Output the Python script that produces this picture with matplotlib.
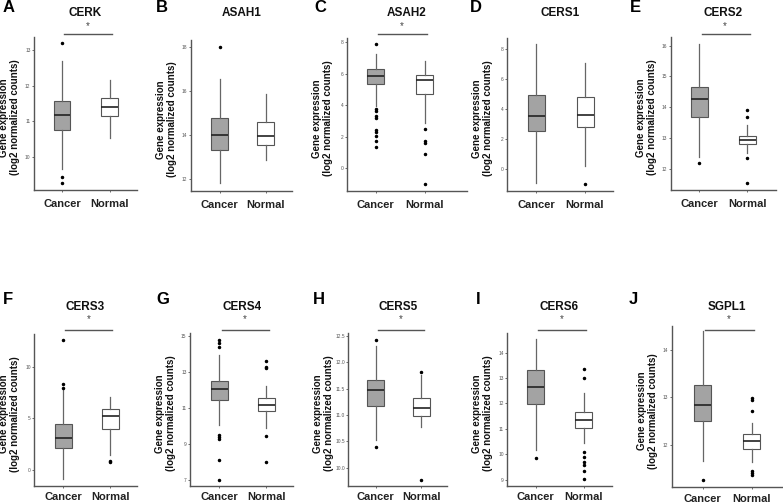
import matplotlib
matplotlib.use("Agg")
import matplotlib.pyplot as plt
import matplotlib.transforms as mtransforms

plt.rcParams['font.family'] = ['Liberation Sans', 'DejaVu Sans']

# ---- data ----
genes = ["CERK", "ASAH1", "ASAH2", "CERS1", "CERS2",
         "CERS3", "CERS4", "CERS5", "CERS6", "SGPL1"]
letters = ["A", "B", "C", "D", "E", "F", "G", "H", "I", "J"]
groups = ["Cancer", "Normal"]
significant = [True, False, True, False, True, True, True, True, True, True]

cancer_whislo = [9.66, 11.83, 3.95, -0.93, 12.39, -0.93, 10.07, 10.52, 10.18, 11.67]
cancer_q1 = [10.76, 13.33, 5.34, 2.57, 13.69, 2.14, 11.42, 11.18, 11.98, 12.51]
cancer_med = [11.18, 14.0, 5.87, 3.55, 14.26, 3.05, 12.04, 11.47, 12.64, 12.85]
cancer_q3 = [11.58, 14.78, 6.33, 4.93, 14.64, 4.44, 12.5, 11.66, 13.32, 13.27]
cancer_whishi = [12.7, 16.53, 7.28, 8.33, 16.05, 7.86, 13.94, 12.31, 14.53, 14.4]
cancer_fliers = [
    [13.19, 9.43, 9.27],
    [18.0],
    [7.9, 3.76, 3.64, 3.32, 3.2, 2.42, 2.31, 2.04, 1.7, 1.32],
    [],
    [12.2],
    [12.6, 8.35, 7.99],
    [14.78, 14.59, 14.41, 9.47, 9.37, 9.26, 8.08, 7.0],
    [12.42, 10.4],
    [9.87],
    [11.27],
]

normal_whislo = [10.53, 12.85, 2.85, 0.22, 12.52, 1.43, 9.86, 10.77, 10.44, 11.65]
normal_q1 = [11.15, 13.56, 4.7, 2.84, 12.79, 3.92, 10.8, 10.99, 11.04, 11.91]
normal_med = [11.41, 13.94, 5.6, 3.64, 12.92, 5.24, 11.17, 11.14, 11.34, 12.09]
normal_q3 = [11.64, 14.59, 5.95, 4.82, 13.05, 5.9, 11.57, 11.32, 11.67, 12.22]
normal_whishi = [12.17, 15.83, 6.84, 7.07, 13.43, 7.09, 12.2, 11.75, 12.4, 12.46]
normal_fliers = [
    [],
    [],
    [2.5, 1.75, 1.62, 0.89, -0.98],
    [-0.96],
    [13.92, 13.69, 12.34, 11.53],
    [0.87, 0.7],
    [13.61, 13.3, 13.2, 9.43, 7.98],
    [11.81, 9.77],
    [13.35, 13.01, 10.08, 9.9, 9.68, 9.58, 9.33, 9.02],
    [12.99, 12.94, 12.71, 11.46, 11.42, 11.37],
]

yticks = [
    [10, 11, 12, 13],
    [12, 14, 16, 18],
    [0, 2, 4, 6, 8],
    [0, 2, 4, 6, 8],
    [12, 13, 14, 15, 16],
    [0, 5, 10],
    [7, 9, 11, 13, 15],
    [10.0, 10.5, 11.0, 11.5, 12.0, 12.5],
    [9, 10, 11, 12, 13, 14],
    [12, 13, 14],
]
ylims = [(9.08, 13.36), (11.47, 18.3), (-1.45, 8.28), (-1.45, 8.73), (11.31, 16.29),
         (-1.56, 13.2), (6.67, 15.15), (9.66, 12.55), (8.76, 14.79), (11.11, 14.5)]

# ---- layout in pixels (left, top, right, bottom, centre1, centre2) ----
W, H = 783, 504
geom = [
    (34, 37, 137, 190, 62, 110),
    (191, 40, 292, 190.7, 219.7, 265.7),
    (346.7, 38, 467, 191, 375.8, 424.7),
    (506.7, 38, 612.7, 191, 536.3, 585),
    (670.7, 36.7, 775.7, 190, 699.3, 747.2),
    (34.3, 334, 136.7, 485.7, 63, 110),
    (190, 333.3, 293.3, 485.7, 219.2, 266.3),
    (348.3, 333.3, 447.3, 485.7, 375.7, 421.3),
    (507.3, 332.7, 611.7, 485.7, 535.5, 583.7),
    (671.7, 326, 782, 487.3, 702.5, 751.8),
]
letter_x = [3, 156, 314, 470, 630, 3, 156, 313, 476, 629]

fig = plt.figure(figsize=(W / 100, H / 100), dpi=100)
fig.patch.set_facecolor("white")

edge = "#555555"
for i in range(10):
    L, T, R, B, c1, c2 = geom[i]
    row2 = i >= 5
    ax = fig.add_axes([L / W, 1 - B / H, (R - L) / W, (B - T) / H])
    d = c2 - c1
    stats = [
        dict(whislo=cancer_whislo[i], q1=cancer_q1[i], med=cancer_med[i],
             q3=cancer_q3[i], whishi=cancer_whishi[i], fliers=cancer_fliers[i]),
        dict(whislo=normal_whislo[i], q1=normal_q1[i], med=normal_med[i],
             q3=normal_q3[i], whishi=normal_whishi[i], fliers=normal_fliers[i]),
    ]
    bp = ax.bxp(stats, positions=[1, 2], widths=17 / d, patch_artist=True,
                showcaps=False,
                boxprops=dict(edgecolor=edge, linewidth=0.8),
                whiskerprops=dict(color="#666666", linewidth=0.9),
                medianprops=dict(color="#222222", linewidth=1.2),
                flierprops=dict(marker="o", markersize=1.5, markerfacecolor="black",
                                markeredgecolor="black", linestyle="none"))
    bp["boxes"][0].set_facecolor("#a3a3a3")
    bp["boxes"][1].set_facecolor("white")

    ax.set_xlim(1 - (c1 - L) / d, 2 + (R - c2) / d)
    ax.set_ylim(*ylims[i])
    ax.set_yticks(yticks[i])
    if i == 7:
        ax.set_yticklabels(["%.1f" % v for v in yticks[i]])
    ax.set_xticks([1, 2])
    ax.set_xticklabels(groups, fontsize=8, fontweight="bold", color="#222222")
    ax.tick_params(axis="y", labelsize=3.5, labelcolor="#555555", length=1.5,
                   width=0.6, color=edge, pad=1)
    ax.tick_params(axis="x", length=1.5, width=0.6, color=edge,
                   pad=3 if row2 else 5)
    for s in ["top", "right"]:
        ax.spines[s].set_visible(False)
    for s in ["left", "bottom"]:
        ax.spines[s].set_color(edge)
        ax.spines[s].set_linewidth(1.0)
    ax.set_facecolor("white")

    # y label
    fig.text((L - 24.5) / W, 1 - ((T + B) / 2 + 4) / H,
             "Gene expression\n(log2 normalized counts)", rotation=90,
             ha="center", va="center", fontsize=7, fontweight="bold",
             linespacing=1.1, color="#111111")

    title_y = 307 if row2 else 13
    fig.text((L + R) / 2 / W, 1 - title_y / H, genes[i], ha="center", va="center",
             fontsize=8.5, fontweight="bold", color="#111111")
    fig.text(letter_x[i] / W, 1 - ((300 if row2 else 8)) / H, letters[i],
             ha="left", va="center", fontsize=12, fontweight="bold")

    if significant[i]:
        line_y = 330 if row2 else 33.5
        star_y = 319 if row2 else 26
        trans = mtransforms.blended_transform_factory(ax.transData, fig.transFigure)
        ax.plot([1.05, 2.05], [1 - line_y / H] * 2, transform=trans,
                color="#555555", linewidth=1.0, clip_on=False)
        fig.text((c1 + c2) / 2 / W + 2 / W, 1 - star_y / H, "*", ha="center",
                 va="center", fontsize=7, color="#444444")

fig.savefig("out.png", dpi=100)
